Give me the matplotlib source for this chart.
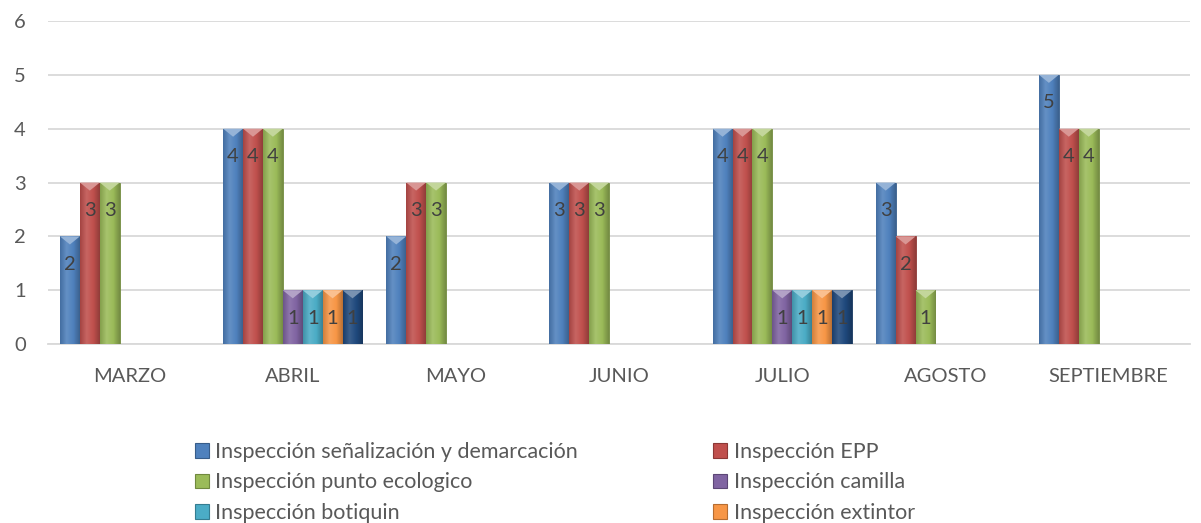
import numpy as np
import matplotlib
matplotlib.use('Agg')
import matplotlib.pyplot as plt
from matplotlib.patches import Patch, Polygon
from matplotlib.colors import LinearSegmentedColormap, to_rgb

plt.rcParams['font.family'] = ['Lato', 'DejaVu Sans']

months = ['MARZO', 'ABRIL', 'MAYO', 'JUNIO', 'JULIO', 'AGOSTO', 'SEPTIEMBRE']
series_names = ['Inspección señalización y demarcación',
                'Inspección EPP',
                'Inspección punto ecologico',
                'Inspección camilla',
                'Inspección botiquin',
                'Inspección extintor',
                'Inspección camillas']
nan = np.nan
senalizacion = [2, 4, 2, 3, 4, 3, 5]
epp = [3, 4, 3, 3, 4, 2, 4]
punto_ecologico = [3, 4, 3, 3, 4, 1, 4]
camilla = [nan, 1, nan, nan, 1, nan, nan]
botiquin = [nan, 1, nan, nan, 1, nan, nan]
extintor = [nan, 1, nan, nan, 1, nan, nan]
otro = [nan, 1, nan, nan, 1, nan, nan]
colors = ['#4F81BD', '#C0504D', '#9BBB59', '#8064A2', '#4BACC6', '#F79646', '#1F497D']
edges = ['#385D8A', '#8C3836', '#71893F', '#5C4776', '#357D91', '#B66D31', '#17375E']

data = [senalizacion, epp, punto_ecologico, camilla, botiquin, extintor, otro]


def mix(c, t, f):
    c = np.array(to_rgb(c))
    t = np.array(to_rgb(t))
    return tuple(c + (t - c) * f)


fig = plt.figure(figsize=(12.01, 5.23), dpi=100)
ax = fig.add_axes([0.04, 0.342, 0.951, 0.618])

x = np.arange(len(months))
w = 0.122
tri_h = 0.15
grad = np.linspace(0, 1, 64).reshape(1, -1)
handles = []
for i, vals in enumerate(data):
    vals = np.array(vals, dtype=float)
    pos = x + (i - 3) * w
    cmap = LinearSegmentedColormap.from_list(
        's%d' % i, [mix(colors[i], 'black', 0.15), mix(colors[i], 'white', 0.12),
                    colors[i], mix(colors[i], 'black', 0.25)])
    bars = ax.bar(pos, vals, width=w, color=colors[i], edgecolor=edges[i], linewidth=0.6, zorder=3)
    for b, p, v in zip(bars, pos, vals):
        if np.isnan(v):
            continue
        x0, y0 = b.get_x(), b.get_y()
        bw, bh = b.get_width(), b.get_height()
        im = ax.imshow(grad, cmap=cmap, extent=(x0, x0 + bw, y0, y0 + bh),
                       aspect='auto', zorder=3.5, interpolation='bilinear')
        im.set_clip_path(b)
        ax.add_patch(Polygon([(x0, y0 + bh), (x0 + bw, y0 + bh), (x0 + bw / 2, y0 + bh - tri_h)],
                             closed=True, facecolor=mix(colors[i], 'white', 0.4),
                             edgecolor='none', zorder=3.6))
        ax.text(p, v - 0.52, '%d' % v, ha='center', va='center', fontsize=14.5,
                color='#404040', zorder=4)
    handles.append(Patch(facecolor=colors[i], edgecolor=edges[i], linewidth=0.8))

ax.set_xlim(-0.5, 6.5)
ax.set_ylim(0, 6)
ax.set_yticks(range(7))
ax.yaxis.grid(True, color='#D9D9D9', linewidth=1.3, zorder=0)
ax.set_axisbelow(True)
for s in ['top', 'right', 'left']:
    ax.spines[s].set_visible(False)
ax.spines['bottom'].set_color('#D9D9D9')
ax.spines['bottom'].set_linewidth(1.3)
ax.set_xticks(x)
ax.set_xticklabels(months)
ax.tick_params(axis='both', length=0, labelsize=14.5, labelcolor='#595959')
ax.tick_params(axis='x', pad=17)
ax.tick_params(axis='y', pad=16)

# excel fills legend row by row; matplotlib column by column
# (the last row falls below the figure edge, as in the original)
order = [0, 2, 4, 6, 1, 3, 5]
fig.legend([handles[k] for k in order], [series_names[k] for k in order],
           ncol=2, loc='upper left', bbox_to_anchor=(0.162, 0.155),
           frameon=False, fontsize=15.5, labelcolor='#595959',
           handlelength=0.65, handleheight=0.65, handletextpad=0.3,
           columnspacing=6.3, labelspacing=0.49, borderaxespad=0, borderpad=0)

fig.savefig('out.png', dpi=100)
